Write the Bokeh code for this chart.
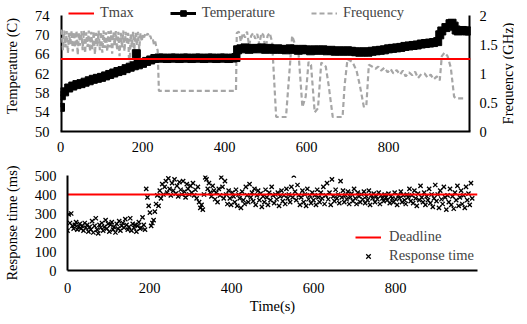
import math
from bokeh.plotting import figure
from bokeh.models import Range1d, LinearAxis, Legend, LegendItem, FixedTicker
from bokeh.core.properties import value
from bokeh.layouts import column, row
from bokeh.embed import file_html
from bokeh.resources import INLINE

# ---------------- data ----------------
TMAX = 65
DEADLINE = 400
X_MIN, X_MAX = 0, 1000
T_MIN, T_MAX = 50, 74
F_MIN, F_MAX = 0, 2
X_TICKS = [0, 200, 400, 600, 800]
TEMP_TICKS = [50, 54, 58, 62, 66, 70, 74]
FREQ_TICKS = [0, 0.5, 1, 1.5, 2]
RT_TICKS = [0, 100, 200, 300, 400, 500]

temp_time = [0, 2, 10, 20, 30, 40, 50, 60, 70, 80, 90, 100, 110, 120, 130, 140, 150, 160, 170, 180,
             185, 190, 200, 210, 220, 230, 240, 250, 260, 270, 280, 290, 300, 310, 320, 330, 340, 350,
             360, 370, 380, 390, 400, 410, 420, 428, 432, 440, 450, 460, 470, 480, 490, 500, 510, 520,
             530, 540, 550, 560, 570, 580, 590, 600, 610, 620, 630, 640, 650, 660, 670, 680, 690, 700,
             710, 720, 730, 740, 750, 760, 770, 780, 790, 800, 810, 820, 830, 840, 850, 860, 870, 880,
             890, 900, 910, 920, 925, 930, 940, 950, 955, 960, 965, 970, 980, 990, 997]
temp_c = [55.0, 57.4, 58.2, 59.0, 59.4, 59.7, 59.9, 60.2, 60.5, 60.8, 61.0, 61.2, 61.5, 61.8, 62.1, 62.4,
          62.6, 63.0, 63.3, 63.6, 66.1, 63.8, 64.1, 64.5, 64.8, 65.1, 65.2, 65.2, 65.1, 65.2, 65.2, 65.1,
          65.2, 65.2, 65.1, 65.2, 65.2, 65.1, 65.2, 65.2, 65.1, 65.2, 65.2, 65.1, 65.2, 65.3, 66.9, 67.1,
          67.3, 67.0, 67.2, 67.1, 67.3, 67.0, 67.2, 67.0, 67.1, 67.0, 66.9, 67.1, 67.0, 66.8, 67.0, 66.9,
          66.7, 66.9, 66.8, 66.9, 66.7, 66.8, 66.6, 66.7, 66.6, 66.7, 66.6, 66.5, 66.4, 66.5, 66.4, 66.6,
          66.7, 66.8, 66.9, 67.1, 67.2, 67.3, 67.4, 67.6, 67.7, 67.8, 67.9, 68.1, 68.2, 68.3, 68.4, 68.6,
          70.0, 70.8, 71.5, 72.3, 72.4, 71.8, 71.0, 70.8, 70.9, 70.8, 70.8]

freq_time = [0, 3, 6, 9, 12, 15, 18, 21, 24, 27, 30, 33, 36, 39, 42, 45, 48, 51, 54, 57, 60, 63, 66,
             69, 72, 75, 78, 81, 84, 87, 90, 93, 96, 99, 102, 105, 108, 111, 114, 117, 120, 123, 126,
             129, 132, 135, 138, 141, 144, 147, 150, 153, 156, 159, 162, 165, 168, 171, 174, 177, 180,
             183, 186, 189, 192, 195, 198, 201, 204, 207, 210, 213, 216, 219, 222, 225, 228, 231, 234,
             237, 240, 428, 430, 435, 440, 445, 450, 455, 460, 465, 470, 475, 480, 485, 490, 495, 500,
             505, 510, 516, 526, 550, 557, 565, 572, 580, 590, 598, 605, 611, 620, 628, 636, 647, 654,
             664, 688, 693, 700, 712, 722, 730, 740, 746, 752, 760, 768, 775, 782, 790, 798, 805, 812,
             820, 828, 835, 842, 850, 858, 865, 872, 880, 888, 895, 903, 910, 918, 925, 930, 937, 944,
             952, 960, 965, 985]
freq_ghz = [1.75, 1.72, 1.40, 1.74, 1.45, 1.73, 1.35, 1.70, 1.50, 1.74, 1.38, 1.72, 1.45, 1.74, 1.32,
            1.70, 1.48, 1.73, 1.40, 1.74, 1.35, 1.71, 1.46, 1.74, 1.38, 1.72, 1.42, 1.73, 1.33, 1.70,
            1.47, 1.74, 1.40, 1.72, 1.36, 1.74, 1.44, 1.71, 1.38, 1.73, 1.45, 1.74, 1.34, 1.71, 1.48,
            1.73, 1.40, 1.72, 1.30, 1.70, 1.45, 1.74, 1.38, 1.72, 1.50, 1.70, 1.02, 1.68, 1.45, 1.72,
            1.40, 1.70, 1.48, 1.72, 1.42, 1.70, 1.55, 1.68, 1.62, 1.70, 1.66, 1.69, 1.62, 1.65, 1.58,
            1.60, 1.50, 1.55, 1.45, 1.40, 0.70, 0.70, 1.70, 1.72, 1.55, 1.70, 1.62, 1.72, 1.48, 1.65,
            1.70, 1.60, 1.68, 1.50, 1.70, 1.66, 1.38, 1.65, 1.70, 1.55, 0.25, 0.25, 0.90, 1.65, 1.50,
            1.40, 0.42, 0.60, 1.20, 1.15, 0.33, 0.40, 1.19, 1.12, 0.80, 0.25, 0.25, 0.80, 1.25, 1.20,
            1.05, 0.80, 0.42, 0.45, 1.15, 1.12, 1.08, 1.12, 1.05, 1.10, 1.02, 1.08, 1.00, 1.06, 0.98,
            1.05, 0.95, 1.02, 0.97, 1.03, 0.92, 0.99, 1.00, 0.93, 0.98, 0.90, 0.95, 0.88, 1.30, 1.36,
            1.30, 1.10, 0.60, 0.57, 0.57]

rt_time = list(range(0, 990, 3))
rt_ms = [
    210, 295, 250, 300, 235, 220, 240, 255, 215, 230,
    245, 220, 235, 210, 250, 225, 240, 205, 230, 215,
    260, 200, 235, 275, 215, 195, 240, 225, 250, 210,
    230, 265, 220, 245, 205, 240, 255, 215, 230, 200,
    245, 220, 260, 210, 235, 250, 225, 270, 240, 215,
    230, 275, 210, 245, 225, 240, 205, 235, 255, 220,
    225, 280, 240, 215, 430, 385, 340, 305, 235, 250,
    265, 310, 350, 395, 340, 420, 380, 455, 400, 440,
    470, 410, 485, 430, 395, 460, 420, 480, 405, 445,
    390, 465, 425, 400, 470, 415, 385, 455, 430, 400,
    445, 410, 460, 395, 425, 380, 440, 360, 330, 345,
    320, 400, 490, 480, 430, 460, 410, 390, 445, 420,
    375, 410, 360, 430, 395, 490, 440, 380, 470, 400,
    350, 420, 380, 345, 410, 390, 360, 425, 340, 400,
    380, 330, 415, 370, 350, 440, 395, 360, 455, 385,
    410, 365, 430, 345, 395, 420, 370, 405, 335, 390,
    360, 425, 385, 345, 410, 370, 440, 395, 355, 400,
    375, 410, 340, 390, 420, 365, 395, 350, 430, 380,
    400, 360, 440, 385, 500, 415, 370, 450, 395, 345,
    385, 420, 360, 400, 340, 430, 375, 395, 355, 410,
    370, 395, 345, 425, 385, 360, 410, 380, 440, 350,
    395, 460, 375, 410, 345, 480, 390, 365, 425, 380,
    400, 355, 470, 385, 420, 360, 395, 375, 415, 350,
    385, 405, 365, 430, 380, 350, 410, 390, 360, 400,
    375, 415, 355, 390, 370, 420, 345, 395, 380, 405,
    360, 390, 375, 410, 350, 395, 380, 365, 400, 385,
    370, 405, 355, 390, 380, 360, 410, 375, 345, 395,
    380, 415, 360, 395, 370, 350, 400, 385, 430, 365,
    395, 355, 420, 380, 340, 405, 370, 445, 385, 360,
    410, 345, 390, 370, 430, 355, 400, 335, 380, 450,
    365, 400, 330, 420, 375, 350, 440, 385, 320, 395,
    360, 430, 345, 390, 325, 410, 370, 445, 340, 385,
    420, 350, 395, 330, 440, 370, 405, 345, 460, 380,
]

FREQ_TITLE = "Frequency (GHz)"

# ---------------- style ----------------
FONT = "Liberation Serif"
FS = "14.5px"
RED = "#FF0000"
GRAY = "#A6A6A6"
FRAME_W = 410
SIDE_W = 14

TOP_FRAME_H = 131
TOP_BOTTOM_BORDER = 24
AXIS_PX = 116            # pixel height that the 50..74 span occupies
HEAD_PX = TOP_FRAME_H - AXIS_PX   # room above 74 used by the legend
t_top = T_MAX + HEAD_PX * (T_MAX - T_MIN) / AXIS_PX
f_top = F_MAX + HEAD_PX * (F_MAX - F_MIN) / AXIS_PX


def style_axis(ax, standoff=5, title_standoff=10):
    ax.axis_line_color = "black"
    ax.axis_line_width = 2
    ax.major_tick_line_color = None
    ax.minor_tick_line_color = None
    ax.major_label_text_font = FONT
    ax.major_label_text_font_size = FS
    ax.major_label_text_color = "black"
    ax.major_label_standoff = standoff
    ax.axis_label_text_font = FONT
    ax.axis_label_text_font_size = FS
    ax.axis_label_text_font_style = "normal"
    ax.axis_label_text_color = "black"
    ax.axis_label_standoff = title_standoff


# ---------------- top figure ----------------
t_range = Range1d(T_MIN, t_top)
top = figure(frame_width=FRAME_W, frame_height=TOP_FRAME_H,
             x_range=Range1d(X_MIN, X_MAX), y_range=t_range,
             output_backend="svg", toolbar_location=None,
             min_border_left=59, min_border_right=28, min_border_top=0,
             min_border_bottom=TOP_BOTTOM_BORDER)
top.extra_y_ranges = {"freq": Range1d(F_MIN, f_top)}
top.outline_line_color = None
top.xgrid.visible = False
top.ygrid.visible = False
top.xaxis.ticker = FixedTicker(ticks=X_TICKS)
top.yaxis.ticker = FixedTicker(ticks=TEMP_TICKS)
top.yaxis.axis_label = "Temperature (C)"
style_axis(top.xaxis[0], standoff=4)
style_axis(top.yaxis[0], standoff=5, title_standoff=12)
top.yaxis[0].axis_line_color = None

rax = LinearAxis(y_range_name="freq", ticker=FixedTicker(ticks=FREQ_TICKS),
                 major_label_overrides={0: "0", 0.5: "0.5", 1: "1", 1.5: "1.5", 2: "2"})
style_axis(rax, standoff=3)
rax.axis_line_color = None
top.add_layout(rax, "right")

# vertical axis lines that stop at the top tick (74 / 2 GHz)
top.segment(x0=[X_MIN, X_MAX], y0=[T_MIN, T_MIN], x1=[X_MIN, X_MAX], y1=[T_MAX, T_MAX],
            line_color="black", line_width=4)

fr = top.line(freq_time, freq_ghz, y_range_name="freq", line_color=GRAY,
              line_width=2.2, line_dash="5 3")
tl = top.line(temp_time, temp_c, line_color="black", line_width=3)
ts = top.scatter(temp_time, temp_c, marker="square", size=8, fill_color="black", line_color="black")
tm = top.line(x=[X_MIN, X_MAX], y=[TMAX, TMAX], line_color=RED, line_width=2)

leg = Legend(items=[LegendItem(label="Tmax", renderers=[tm]),
                    LegendItem(label="Temperature", renderers=[tl, ts]),
                    LegendItem(label="Frequency", renderers=[fr])],
             orientation="horizontal", location=(8, 110),
             label_text_font=FONT, label_text_font_size=FS,
             glyph_width=26, glyph_height=14, label_standoff=6, spacing=36,
             padding=0, margin=0, border_line_color=None, background_fill_alpha=0)
top.add_layout(leg, "center")

# narrow strip on the right that carries the rotated frequency-axis title
side = figure(frame_width=SIDE_W, frame_height=TOP_FRAME_H, x_range=Range1d(0, 1), y_range=t_range,
              x_axis_type=None, y_axis_type=None, output_backend="svg", toolbar_location=None,
              min_border_left=0, min_border_right=0, min_border_top=0,
              min_border_bottom=TOP_BOTTOM_BORDER)
side.outline_line_color = None
side.xgrid.visible = False
side.ygrid.visible = False
side.text(x=[0.5], y=[(T_MIN + T_MAX) / 2], text=[FREQ_TITLE], angle=math.pi / 2,
          text_align="center", text_baseline="middle", text_color="black",
          text_font=value(FONT), text_font_size=value(FS))

# ---------------- bottom figure ----------------
bot = figure(frame_width=FRAME_W, frame_height=95,
             x_range=Range1d(X_MIN, X_MAX), y_range=Range1d(0, 500),
             output_backend="svg", toolbar_location=None,
             min_border_left=59, min_border_right=42, min_border_top=20, min_border_bottom=46)
bot.outline_line_color = None
bot.xgrid.visible = False
bot.ygrid.visible = False
bot.xaxis.ticker = FixedTicker(ticks=X_TICKS)
bot.yaxis.ticker = FixedTicker(ticks=RT_TICKS)
bot.xaxis.axis_label = "Time(s)"
bot.yaxis.axis_label = "Response time (ms)"
style_axis(bot.xaxis[0], standoff=6, title_standoff=2)
style_axis(bot.yaxis[0], standoff=5, title_standoff=12)

rs = bot.scatter(rt_time, rt_ms, marker="x", size=6, line_color="black", line_width=1.3)
dl = bot.line(x=[X_MIN, X_MAX], y=[DEADLINE, DEADLINE], line_color=RED, line_width=2)

leg2 = Legend(items=[LegendItem(label="Deadline", renderers=[dl]),
                     LegendItem(label="Response time", renderers=[rs])],
              location=(288, 6),
              label_text_font=FONT, label_text_font_size=FS,
              glyph_width=26, glyph_height=16, label_standoff=8, spacing=2,
              padding=0, margin=0, border_line_color=None, background_fill_alpha=0)
bot.add_layout(leg2, "center")

layout = column(row(top, side, spacing=0), bot, spacing=0)
open("out.html", "w").write(file_html(layout, INLINE))
